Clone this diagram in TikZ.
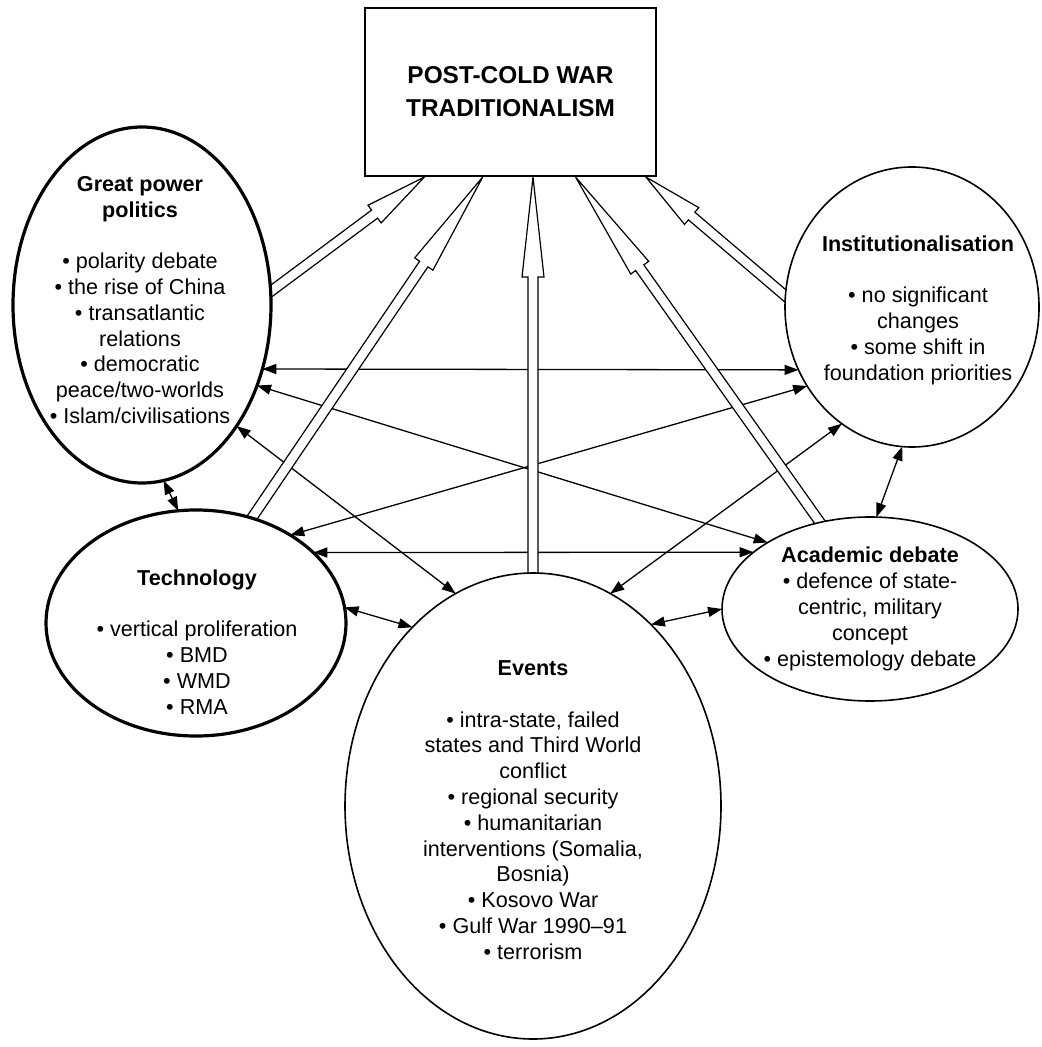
\documentclass[tikz,border=0pt]{standalone}
\usepackage{fontspec}
\setmainfont{Liberation Sans}
\usepackage{tikz}
\usetikzlibrary{arrows.meta,calc,shapes.geometric}

\pgfdeclarelayer{bg}
\pgfsetlayers{bg,main}

\tikzset{
  theme/.style={draw, ellipse, fill=white, line width=0.8pt, inner sep=0pt, outer sep=0pt},
  major/.style={theme, line width=1.6pt},
  txt/.style={align=center, font=\fontsize{10.8}{12.9}\selectfont, inner sep=0pt},
  link/.style={line width=0.65pt, {Triangle[length=7pt,width=5pt]}-{Triangle[length=7pt,width=5pt]}},
  hollow/.style={line width=0.6pt, line join=miter}
}

% double-line arrow with a long open head: start, tip, head length
\newcommand{\hollowarrow}[3]{%
  \coordinate (ha0) at ($(#1)!-6pt!(#2)$);
  \coordinate (ha1) at (#2);
  \coordinate (ha2) at ($(ha1)!#3!(ha0)$);
  \filldraw[hollow, fill=white]
    ($(ha0)!2.5pt!90:(ha1)$) -- ($(ha2)!2.5pt!90:(ha1)$) -- ($(ha2)!5.5pt!90:(ha1)$)
    -- (ha1) -- ($(ha2)!5.5pt!-90:(ha1)$) -- ($(ha2)!2.5pt!-90:(ha1)$)
    -- ($(ha0)!2.5pt!-90:(ha1)$) -- cycle;
}

\begin{document}
\begin{tikzpicture}[x=0.5pt, y=-0.5pt]
        \useasboundingbox (0,0) rectangle (1041,1047);

        \node[draw, rectangle, fill=white, line width=1.1pt, minimum width=145.5pt, minimum height=84pt, align=center, font=\fontsize{12.2}{16.5}\selectfont\bfseries] (box) at (510.5,92) {POST-COLD WAR\\TRADITIONALISM};

        \node[major, minimum width=129pt, minimum height=178pt] (gpp) at (142,305) {};
        \node[major, minimum width=150pt, minimum height=113pt] (tech) at (196,623) {};
        \node[theme, minimum width=188pt, minimum height=233pt] (ev) at (533,806) {};
        \node[theme, minimum width=127pt, minimum height=140pt] (inst) at (912,307) {};
        \node[theme, minimum width=148pt, minimum height=92pt] (ad) at (870,609) {};

        \node[txt] (gpptxt) at (140,300) {\textbf{Great power}\\\textbf{politics}\\[12.9pt]• polarity debate\\• the rise of China\\• transatlantic\\relations\\• democratic\\peace/two-worlds\\• Islam/civilisations};
        \node[txt] (techtxt) at (197,642) {\textbf{Technology}\\[12.9pt]• vertical proliferation\\• BMD\\• WMD\\• RMA};
        \node[txt] (evtxt) at (533,810) {\textbf{Events}\\[12.9pt]• intra-state, failed\\states and Third World\\conflict\\• regional security\\• humanitarian\\interventions (Somalia,\\Bosnia)\\• Kosovo War\\• Gulf War 1990–91\\• terrorism};
        \node[txt] (insttxt) at (918,310) {\textbf{Institutionalisation}\\[12.9pt]• no significant\\changes\\• some shift in\\foundation priorities};
        \node[txt] (adtxt) at (870,609) {\textbf{Academic debate}\\• defence of state-\\centric, military\\concept\\• epistemology debate};

        \coordinate (tgpp) at ($(box.south west)!0.206!(box.south east)$);
        \coordinate (ttech) at ($(box.south west)!0.405!(box.south east)$);
        \coordinate (tev) at (box.south -| ev.north);
        \coordinate (tad) at ($(box.south west)!0.722!(box.south east)$);
        \coordinate (tinst) at ($(box.south west)!0.962!(box.south east)$);

        \begin{pgfonlayer}{bg}
        % links between the themes
        \draw[link] (gpp.-28) -- (inst.209);
        \draw[link] (gpp.-35) -- (ad.147);
        \draw[link] (gpp.-52) -- (ev.110);
        \draw[link] (gpp.277) -- (tech.99);
        \draw[link] (tech.31) -- (ad.154);
        \draw[link] (tech.43) -- (inst.217);
        \draw[link] (tech.6) -- (ev.124);
        \draw[link] (ev.70) -- (inst.239);
        \draw[link] (ev.57) -- (ad.180);
        \draw[link] (inst.266) -- (ad.86);

        % into the box
        \hollowarrow{gpp.6}{tgpp}{31pt}
        \hollowarrow{tech.62}{ttech}{52.5pt}
        \hollowarrow{ev.north}{tev}{50pt}
        \hollowarrow{ad.120}{tad}{55.5pt}
        \hollowarrow{inst.175}{tinst}{30pt}
        \end{pgfonlayer}
    \end{tikzpicture}
\end{document}
